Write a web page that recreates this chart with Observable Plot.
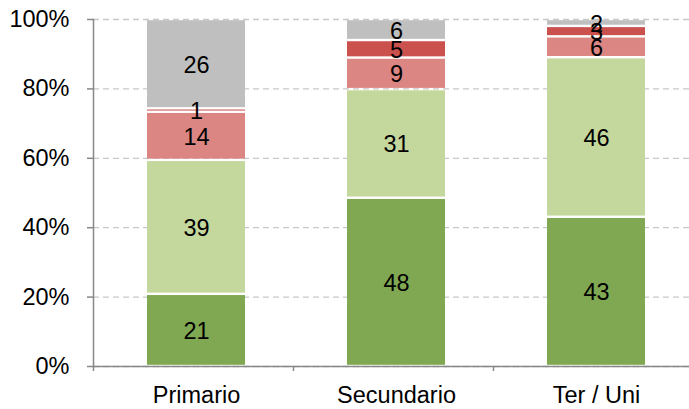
<!DOCTYPE html>
<html>
<head>
<meta charset="utf-8">
<script src="https://cdn.jsdelivr.net/npm/d3@7"></script>
<script src="https://cdn.jsdelivr.net/npm/@observablehq/plot@0.6"></script>
<style>
  html, body { margin: 0; padding: 0; background: #fff; }
  #chart { width: 689px; height: 409px; }
</style>
</head>
<body>
<div id="chart"></div>
<script>
const categories = ["Primario", "Secundario", "Ter / Uni"];
const series = ["verde oscuro", "verde claro", "rosa", "rojo", "gris"];
const colors = ["#80A852", "#C4D79C", "#DB8682", "#CB514E", "#BFBFBF"];
const primario = [21, 39, 14, 1, 26];
const secundario = [48, 31, 9, 5, 6];
const terUni = [43, 46, 6, 3, 2];
const yTicks = [0, 0.2, 0.4, 0.6, 0.8, 1];

const valuesByCat = [primario, secundario, terUni];
const data = [];
categories.forEach((cat, i) => {
  series.forEach((s, j) => data.push({cat, serie: s, value: valuesByCat[i][j]}));
});

const font = "'Liberation Sans', Arial, sans-serif";

const chart = Plot.plot({
  width: 689,
  height: 409,
  marginLeft: 93,
  marginRight: 0,
  marginTop: 19,
  marginBottom: 43,
  style: {fontFamily: font, fontSize: "23px", color: "#000", background: "#fff"},
  x: {domain: categories, range: [96, 696], paddingInner: 0.51, paddingOuter: 0.255, label: null},
  y: {domain: [0, 1], label: null},
  color: {domain: series, range: colors},
  marks: [
    Plot.gridY(yTicks, {stroke: "#c8c8c8", strokeOpacity: 1, strokeDasharray: "6,4", strokeWidth: 1.3}),
    Plot.barY(data, Plot.stackY({
      x: "cat", y: "value", z: "serie", fill: "serie", offset: "normalize",
      insetTop: 1.2, insetBottom: 1.2
    })),
    Plot.text(data, Plot.stackY({
      x: "cat", y: "value", z: "serie", text: "value", offset: "normalize",
      fill: "#000", fontSize: 23.5, fontFamily: font, dy: 1
    })),
    Plot.frame({anchor: "left", stroke: "#888", strokeWidth: 1.5}),
    Plot.frame({anchor: "bottom", stroke: "#888", strokeWidth: 1.5}),
    Plot.axisY(yTicks, {
      tickSize: 6, tickPadding: 18, stroke: "#888", strokeWidth: 1.5,
      tickFormat: d => Math.round(d * 100) + "%", fontSize: 23.5, fontFamily: font, fill: "#000", label: null
    }),
    Plot.axisX(categories, {
      tickSize: 5, text: null, dx: -103, stroke: "#888", strokeWidth: 1.5, label: null
    }),
    Plot.axisX(categories, {
      tickSize: 0, tickPadding: 20, fontSize: 23.5, fontFamily: font, fill: "#000", label: null
    })
  ]
});
document.getElementById("chart").appendChild(chart);
</script>
</body>
</html>
